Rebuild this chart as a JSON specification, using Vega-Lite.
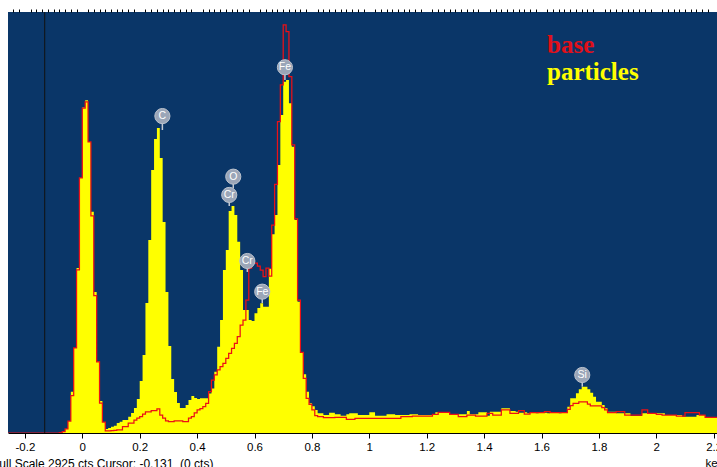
{
  "$schema": "https://vega.github.io/schema/vega-lite/v6.json",
  "width": 709,
  "height": 421,
  "autosize": "none",
  "padding": {"left": 8, "top": 12, "right": 0, "bottom": 34},
  "background": "white",
  "config": {
    "view": {"stroke": null, "fill": "#0a3668"},
    "axisX": {"labelOverlap": false, "labelFlush": false, "labelBound": false, "grid": false, "tickColor": "black", "domainColor": "black"},
    "legend": {
      "orient": "none",
      "legendX": 514,
      "legendY": 20,
      "title": null,
      "labelFont": "Liberation Serif",
      "labelFontSize": 25,
      "labelFontWeight": "bold",
      "symbolSize": 0,
      "symbolOpacity": 0,
      "symbolStrokeWidth": 0,
      "labelOffset": 0,
      "rowPadding": 1,
      "padding": 0
    }
  },
  "title": {
    "text": "Full Scale 2925 cts Cursor: -0.131\u00a0 (0 cts)",
    "orient": "bottom",
    "anchor": "start",
    "frame": "group",
    "dx": -16,
    "dy": -10,
    "offset": 0,
    "font": "Liberation Sans",
    "fontSize": 12,
    "fontWeight": "normal",
    "color": "black"
  },
  "resolve": {"axis": {"x": "independent"}},
  "datasets": {
    "spectrum": [
      {"e":-0.26,"particles":0,"base":0},{"e":-0.25,"particles":0,"base":0},{"e":-0.24,"particles":0,"base":0},{"e":-0.23,"particles":0,"base":0},{"e":-0.22,"particles":0,"base":0},{"e":-0.21,"particles":0,"base":0},{"e":-0.2,"particles":0,"base":0},{"e":-0.19,"particles":0,"base":0},{"e":-0.18,"particles":0,"base":0},{"e":-0.17,"particles":0,"base":0},{"e":-0.16,"particles":0,"base":0},{"e":-0.15,"particles":0,"base":0},{"e":-0.14,"particles":0,"base":0},{"e":-0.13,"particles":0,"base":0},{"e":-0.12,"particles":0,"base":0},{"e":-0.11,"particles":0,"base":0},{"e":-0.1,"particles":0,"base":0},{"e":-0.09,"particles":0,"base":0},{"e":-0.08,"particles":2,"base":2},
      {"e":-0.07,"particles":9,"base":9},{"e":-0.06,"particles":28,"base":28},{"e":-0.05,"particles":83,"base":83},{"e":-0.04,"particles":287,"base":259},{"e":-0.03,"particles":591,"base":591},{"e":-0.02,"particles":1146,"base":1133},{"e":-0.01,"particles":1772,"base":1772},
      {"e":0.0,"particles":2262,"base":2258},{"e":0.01,"particles":2312,"base":2300},{"e":0.02,"particles":2022,"base":2022},{"e":0.03,"particles":1538,"base":1508},{"e":0.04,"particles":980,"base":954},{"e":0.05,"particles":495,"base":495},{"e":0.06,"particles":222,"base":208},{"e":0.07,"particles":76,"base":76},{"e":0.08,"particles":28,"base":14},{"e":0.09,"particles":35,"base":14},
      {"e":0.1,"particles":44,"base":16},{"e":0.11,"particles":50,"base":18},{"e":0.12,"particles":69,"base":21},{"e":0.13,"particles":79,"base":21},{"e":0.14,"particles":90,"base":44},{"e":0.15,"particles":90,"base":44},{"e":0.16,"particles":113,"base":69},{"e":0.17,"particles":139,"base":69},{"e":0.18,"particles":174,"base":90},{"e":0.19,"particles":236,"base":104},
      {"e":0.2,"particles":361,"base":113},{"e":0.21,"particles":542,"base":132},{"e":0.22,"particles":903,"base":146},{"e":0.23,"particles":1341,"base":146},{"e":0.24,"particles":1827,"base":155},{"e":0.25,"particles":2043,"base":155},{"e":0.26,"particles":2119,"base":167},{"e":0.27,"particles":1911,"base":125},{"e":0.28,"particles":1466,"base":104},{"e":0.29,"particles":980,"base":85},
      {"e":0.3,"particles":604,"base":79},{"e":0.31,"particles":375,"base":79},{"e":0.32,"particles":285,"base":85},{"e":0.33,"particles":208,"base":85},{"e":0.34,"particles":174,"base":85},{"e":0.35,"particles":174,"base":79},{"e":0.36,"particles":195,"base":79},{"e":0.37,"particles":229,"base":104},{"e":0.38,"particles":257,"base":113},{"e":0.39,"particles":243,"base":139},
      {"e":0.4,"particles":236,"base":160},{"e":0.41,"particles":241,"base":170},{"e":0.42,"particles":241,"base":183},{"e":0.43,"particles":241,"base":206},{"e":0.44,"particles":275,"base":287},{"e":0.45,"particles":310,"base":368},{"e":0.46,"particles":426,"base":403},{"e":0.47,"particles":600,"base":438},{"e":0.48,"particles":785,"base":461},{"e":0.49,"particles":1132,"base":484},
      {"e":0.5,"particles":1271,"base":519},{"e":0.51,"particles":1542,"base":554},{"e":0.52,"particles":1577,"base":588},{"e":0.53,"particles":1515,"base":623},{"e":0.54,"particles":1329,"base":669},{"e":0.55,"particles":1132,"base":750},{"e":0.56,"particles":855,"base":785},{"e":0.57,"particles":855,"base":924},{"e":0.58,"particles":785,"base":1146},{"e":0.59,"particles":778,"base":1181},
      {"e":0.6,"particles":832,"base":1181},{"e":0.61,"particles":868,"base":1160},{"e":0.62,"particles":901,"base":1132},{"e":0.63,"particles":878,"base":1086},{"e":0.64,"particles":878,"base":1146},{"e":0.65,"particles":1141,"base":1090},{"e":0.66,"particles":1381,"base":1445},{"e":0.67,"particles":1515,"base":1728},{"e":0.68,"particles":1862,"base":2164},{"e":0.69,"particles":2209,"base":2419},
      {"e":0.7,"particles":2441,"base":2835},{"e":0.71,"particles":2453,"base":2789},{"e":0.72,"particles":2291,"base":2476},{"e":0.73,"particles":1989,"base":2001},{"e":0.74,"particles":1480,"base":1487},{"e":0.75,"particles":912,"base":924},{"e":0.76,"particles":563,"base":561},{"e":0.77,"particles":408,"base":380},{"e":0.78,"particles":287,"base":241},{"e":0.79,"particles":206,"base":199},
      {"e":0.8,"particles":185,"base":160},{"e":0.81,"particles":160,"base":120},{"e":0.82,"particles":137,"base":113},{"e":0.83,"particles":137,"base":113},{"e":0.84,"particles":125,"base":106},{"e":0.85,"particles":125,"base":106},{"e":0.86,"particles":141,"base":106},{"e":0.87,"particles":141,"base":106},{"e":0.88,"particles":130,"base":109},{"e":0.89,"particles":130,"base":109},
      {"e":0.9,"particles":120,"base":109},{"e":0.91,"particles":120,"base":109},{"e":0.92,"particles":130,"base":95},{"e":0.93,"particles":137,"base":95},{"e":0.94,"particles":137,"base":95},{"e":0.95,"particles":137,"base":102},{"e":0.96,"particles":125,"base":102},{"e":0.97,"particles":125,"base":102},{"e":0.98,"particles":125,"base":102},{"e":0.99,"particles":125,"base":102},
      {"e":1.0,"particles":144,"base":102},{"e":1.01,"particles":144,"base":102},{"e":1.02,"particles":120,"base":102},{"e":1.03,"particles":120,"base":102},{"e":1.04,"particles":120,"base":102},{"e":1.05,"particles":120,"base":102},{"e":1.06,"particles":130,"base":102},{"e":1.07,"particles":130,"base":102},{"e":1.08,"particles":130,"base":102},{"e":1.09,"particles":125,"base":102},
      {"e":1.1,"particles":125,"base":102},{"e":1.11,"particles":125,"base":113},{"e":1.12,"particles":125,"base":113},{"e":1.13,"particles":125,"base":113},{"e":1.14,"particles":130,"base":113},{"e":1.15,"particles":130,"base":118},{"e":1.16,"particles":130,"base":118},{"e":1.17,"particles":125,"base":118},{"e":1.18,"particles":125,"base":118},{"e":1.19,"particles":125,"base":118},
      {"e":1.2,"particles":125,"base":118},{"e":1.21,"particles":125,"base":118},{"e":1.22,"particles":125,"base":130},{"e":1.23,"particles":144,"base":130},{"e":1.24,"particles":144,"base":144},{"e":1.25,"particles":144,"base":144},{"e":1.26,"particles":144,"base":144},{"e":1.27,"particles":144,"base":144},{"e":1.28,"particles":130,"base":130},{"e":1.29,"particles":130,"base":130},
      {"e":1.3,"particles":130,"base":130},{"e":1.31,"particles":130,"base":113},{"e":1.32,"particles":130,"base":113},{"e":1.33,"particles":130,"base":113},{"e":1.34,"particles":153,"base":125},{"e":1.35,"particles":130,"base":125},{"e":1.36,"particles":130,"base":125},{"e":1.37,"particles":130,"base":118},{"e":1.38,"particles":144,"base":118},{"e":1.39,"particles":144,"base":118},
      {"e":1.4,"particles":144,"base":118},{"e":1.41,"particles":120,"base":137},{"e":1.42,"particles":148,"base":137},{"e":1.43,"particles":148,"base":125},{"e":1.44,"particles":148,"base":125},{"e":1.45,"particles":148,"base":125},{"e":1.46,"particles":172,"base":160},{"e":1.47,"particles":172,"base":160},{"e":1.48,"particles":172,"base":160},{"e":1.49,"particles":153,"base":137},
      {"e":1.5,"particles":153,"base":137},{"e":1.51,"particles":148,"base":137},{"e":1.52,"particles":141,"base":155},{"e":1.53,"particles":141,"base":155},{"e":1.54,"particles":144,"base":132},{"e":1.55,"particles":137,"base":132},{"e":1.56,"particles":141,"base":141},{"e":1.57,"particles":141,"base":141},{"e":1.58,"particles":137,"base":141},{"e":1.59,"particles":144,"base":141},
      {"e":1.6,"particles":141,"base":141},{"e":1.61,"particles":141,"base":148},{"e":1.62,"particles":137,"base":148},{"e":1.63,"particles":141,"base":141},{"e":1.64,"particles":144,"base":141},{"e":1.65,"particles":141,"base":141},{"e":1.66,"particles":137,"base":141},{"e":1.67,"particles":141,"base":141},{"e":1.68,"particles":144,"base":141},{"e":1.69,"particles":183,"base":165},
      {"e":1.7,"particles":241,"base":190},{"e":1.71,"particles":241,"base":206},{"e":1.72,"particles":276,"base":206},{"e":1.73,"particles":304,"base":217},{"e":1.74,"particles":322,"base":217},{"e":1.75,"particles":322,"base":217},{"e":1.76,"particles":304,"base":201},{"e":1.77,"particles":280,"base":188},{"e":1.78,"particles":252,"base":188},{"e":1.79,"particles":217,"base":188},
      {"e":1.8,"particles":217,"base":188},{"e":1.81,"particles":195,"base":176},{"e":1.82,"particles":172,"base":160},{"e":1.83,"particles":148,"base":141},{"e":1.84,"particles":148,"base":141},{"e":1.85,"particles":148,"base":141},{"e":1.86,"particles":137,"base":148},{"e":1.87,"particles":137,"base":148},{"e":1.88,"particles":137,"base":148},{"e":1.89,"particles":137,"base":125},
      {"e":1.9,"particles":137,"base":125},{"e":1.91,"particles":118,"base":125},{"e":1.92,"particles":118,"base":125},{"e":1.93,"particles":118,"base":125},{"e":1.94,"particles":118,"base":125},{"e":1.95,"particles":137,"base":160},{"e":1.96,"particles":137,"base":160},{"e":1.97,"particles":137,"base":137},{"e":1.98,"particles":137,"base":137},{"e":1.99,"particles":137,"base":137},
      {"e":2.0,"particles":137,"base":130},{"e":2.01,"particles":137,"base":130},{"e":2.02,"particles":137,"base":125},{"e":2.03,"particles":125,"base":125},{"e":2.04,"particles":125,"base":125},{"e":2.05,"particles":125,"base":125},{"e":2.06,"particles":125,"base":125},{"e":2.07,"particles":125,"base":118},{"e":2.08,"particles":125,"base":118},{"e":2.09,"particles":113,"base":118},
      {"e":2.1,"particles":113,"base":141},{"e":2.11,"particles":113,"base":141},{"e":2.12,"particles":113,"base":141},{"e":2.13,"particles":113,"base":141},{"e":2.14,"particles":125,"base":141},{"e":2.15,"particles":125,"base":125},{"e":2.16,"particles":125,"base":125},{"e":2.17,"particles":109,"base":109},{"e":2.18,"particles":109,"base":109},{"e":2.19,"particles":109,"base":109},
      {"e":2.2,"particles":109,"base":109},{"e":2.21,"particles":109,"base":109},{"e":2.22,"particles":109,"base":109}
    ],
    "peaks": [
      {"el":"C","e":0.279,"c":2202,"s":2105},
      {"el":"O","e":0.526,"c":1781,"s":1700},
      {"el":"Cr","e":0.512,"c":1654,"s":1577},
      {"el":"Cr","e":0.575,"c":1195,"s":1119},
      {"el":"Fe","e":0.627,"c":982,"s":903},
      {"el":"Fe","e":0.706,"c":2541,"s":2453},
      {"el":"Si","e":1.742,"c":403,"s":322}
    ],
    "cursor": [{"e": -0.131}]
  },
  "layer": [
    {
      "data": {"name": "spectrum"},
      "transform": [{"fold": ["particles"], "as": ["series", "counts"]}],
      "mark": {"type": "area", "interpolate": "step-after", "clip": true},
      "encoding": {
        "x": {"field": "e", "type": "quantitative", "scale": {"domain": [-0.2589, 2.2115], "nice": false, "zero": false},
          "axis": {
            "values": [-0.2,0,0.2,0.4,0.6,0.8,1,1.2,1.4,1.6,1.8,2,2.2],
            "labelExpr": "'' + round(datum.value*10)/10",
            "tickSize": 5,
            "labelColor": "black",
            "labelFont": "Liberation Sans",
            "labelFontSize": 11.5,
            "labelPadding": 3,
            "title": "keV",
            "titleX": 697,
            "titleY": 33,
            "titleAlign": "left",
            "titleBaseline": "alphabetic",
            "titleFont": "Liberation Sans",
            "titleFontSize": 11.5,
            "titleFontWeight": "normal",
            "titleColor": "black"
          }
        },
        "y": {"field": "counts", "type": "quantitative", "scale": {"domain": [0, 2925], "nice": false}, "axis": null},
        "color": {"field": "series", "type": "nominal",
          "scale": {"domain": ["base", "particles"], "range": ["#ec1016", "#ffff00"]},
          "legend": {"encode": {"labels": {"update": {"fill": {"signal": "datum.value === 'base' ? '#e0101a' : '#ffff00'"}}}}}}
      }
    },
    {
      "data": {"name": "spectrum"},
      "transform": [{"fold": ["base"], "as": ["series", "counts"]}],
      "mark": {"type": "line", "interpolate": "step-after", "strokeWidth": 1.25, "clip": true},
      "encoding": {
        "x": {"field": "e", "type": "quantitative", "axis": null},
        "y": {"field": "counts", "type": "quantitative"},
        "color": {"field": "series", "type": "nominal",
          "legend": {"encode": {"labels": {"update": {"fill": {"signal": "datum.value === 'base' ? '#e0101a' : '#ffff00'"}}}}}}
      }
    },
    {
      "data": {"name": "cursor"},
      "mark": {"type": "rule", "color": "#111111", "strokeWidth": 1},
      "encoding": {
        "x": {"field": "e", "type": "quantitative",
          "axis": {
            "values": [-0.24,-0.22,-0.18,-0.16,-0.14,-0.12,-0.1,-0.08,-0.06,-0.04,-0.02,0.02,0.04,0.06,0.08,0.1,0.12,0.14,0.16,0.18,0.22,0.24,0.26,0.28,0.3,0.32,0.34,0.36,0.38,0.42,0.44,0.46,0.48,0.5,0.52,0.54,0.56,0.58,0.62,0.64,0.66,0.68,0.7,0.72,0.74,0.76,0.78,0.82,0.84,0.86,0.88,0.9,0.92,0.94,0.96,0.98,1.02,1.04,1.06,1.08,1.1,1.12,1.14,1.16,1.18,1.22,1.24,1.26,1.28,1.3,1.32,1.34,1.36,1.38,1.42,1.44,1.46,1.48,1.5,1.52,1.54,1.56,1.58,1.62,1.64,1.66,1.68,1.7,1.72,1.74,1.76,1.78,1.82,1.84,1.86,1.88,1.9,1.92,1.94,1.96,1.98,2.02,2.04,2.06,2.08,2.1,2.12,2.14,2.16,2.18],
            "labels": false,
            "domain": false,
            "tickSize": 3,
            "title": null
          }
        }
      }
    },
    {
      "data": {"name": "peaks"},
      "mark": {"type": "rule", "color": "#c3cad4", "strokeWidth": 1.5},
      "encoding": {
        "x": {"field": "e", "type": "quantitative", "axis": null},
        "y": {"field": "c", "type": "quantitative"},
        "y2": {"field": "s"}
      }
    },
    {
      "data": {"name": "peaks"},
      "mark": {"type": "point", "shape": "circle", "filled": true, "size": 230, "fill": "#9ba6b8", "stroke": "#bcc3ce", "strokeWidth": 1, "opacity": 1},
      "encoding": {
        "x": {"field": "e", "type": "quantitative", "axis": null},
        "y": {"field": "c", "type": "quantitative"}
      }
    },
    {
      "data": {"name": "peaks"},
      "mark": {"type": "text", "color": "white", "font": "Liberation Sans", "fontSize": 10.5, "align": "center", "baseline": "middle"},
      "encoding": {
        "x": {"field": "e", "type": "quantitative", "axis": null},
        "y": {"field": "c", "type": "quantitative"},
        "text": {"field": "el"}
      }
    }
  ]
}
